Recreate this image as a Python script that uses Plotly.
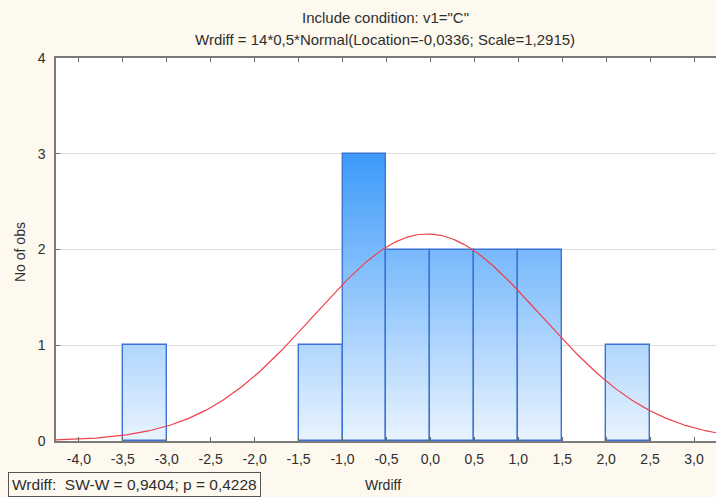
import numpy as np
import plotly.graph_objects as go

# ---- data ----
bin_left = [-3.5, -1.5, -1.0, -0.5, 0.0, 0.5, 1.0, 2.0]
counts = [1, 1, 3, 2, 2, 2, 2, 1]
bin_width = 0.5
n_obs = 14
loc = -0.0336
scale = 1.2915
x_tick_vals = [-4.0, -3.5, -3.0, -2.5, -2.0, -1.5, -1.0, -0.5, 0.0, 0.5, 1.0, 1.5, 2.0, 2.5, 3.0]
x_tick_text = ["-4,0", "-3,5", "-3,0", "-2,5", "-2,0", "-1,5", "-1,0", "-0,5",
               "0,0", "0,5", "1,0", "1,5", "2,0", "2,5", "3,0"]
y_tick_vals = [0, 1, 2, 3, 4]
title1 = 'Include condition: v1="C"'
title2 = "Wrdiff = 14*0,5*Normal(Location=-0,0336; Scale=1,2915)"
stats_text = "Wrdiff:  SW-W = 0,9404; p = 0,4228"
x_title = "Wrdiff"
y_title = "No of obs"

FONT = "Liberation Sans, Arial"
TXT = "#2e2e2e"

centers = [b + bin_width / 2 for b in bin_left]

# gradient segments (color by absolute level)
dh = 0.04
bottom_rgb = np.array([234, 244, 255])
top_rgb = np.array([61, 155, 250])
seg_x, seg_base, seg_h, seg_col = [], [], [], []
for c, n in zip(centers, counts):
    k = 0
    while k * dh < n - 1e-9:
        lvl = k * dh
        t = min((lvl + dh / 2) / 3.0, 1.0)
        rgb = bottom_rgb + (top_rgb - bottom_rgb) * t
        seg_x.append(c)
        seg_base.append(lvl)
        seg_h.append(min(dh * 1.6, n - lvl))
        seg_col.append("rgb(%d,%d,%d)" % tuple(rgb.astype(int)))
        k += 1

fig = go.Figure()
fig.add_trace(go.Bar(
    x=seg_x, y=seg_h, base=seg_base, width=bin_width,
    marker=dict(color=seg_col, line=dict(width=0)),
    hoverinfo="skip", showlegend=False,
))
fig.add_trace(go.Bar(
    x=centers, y=counts, width=bin_width,
    marker=dict(color="rgba(0,0,0,0)", line=dict(color="#3a72d6", width=1.4)),
    showlegend=False,
))

xs = np.linspace(-4.3, 3.3, 400)
ys = n_obs * bin_width * np.exp(-0.5 * ((xs - loc) / scale) ** 2) / (scale * np.sqrt(2 * np.pi))
fig.add_trace(go.Scatter(x=xs, y=ys, mode="lines",
                         line=dict(color="#f0404a", width=1.2), showlegend=False))

fig.update_layout(
    width=716, height=497,
    margin=dict(l=56, r=0, t=58, b=56),
    paper_bgcolor="#fdf9ee", plot_bgcolor="white",
    barmode="overlay", bargap=0,
    font=dict(family=FONT, size=14, color=TXT),
    xaxis=dict(range=[-4.26, 3.25], tickvals=x_tick_vals, ticktext=x_tick_text,
               showgrid=False, zeroline=False, showline=True, linecolor="#7a7a7a",
               linewidth=1.5, mirror="ticks", ticks="inside", ticklen=4,
               tickcolor="#666666", ticklabelstandoff=4,
               tickfont=dict(family=FONT, size=14, color=TXT)),
    yaxis=dict(range=[0, 4], tickvals=y_tick_vals, showgrid=True, gridcolor="#dcdcdc",
               gridwidth=1, zeroline=False, showline=True, linecolor="#7a7a7a",
               linewidth=1.5, ticks="inside", ticklen=4, tickcolor="#666666",
               ticklabelstandoff=6,
               tickfont=dict(family=FONT, size=14, color=TXT)),
)

# annotations placed by pixel position
H, W = 497, 716
l, r, t, b = 56, 0, 58, 56
pw, ph = W - l - r, H - t - b


def ann(text, px, py, size, xanchor="center", **kw):
    return dict(text=text, x=(px - l) / pw, y=(H - b - py) / ph, xref="paper", yref="paper",
                xanchor=xanchor, yanchor="middle", showarrow=False,
                font=dict(family=FONT, size=size, color=TXT), **kw)


fig.update_layout(annotations=[
    ann(title1, 385, 17, 15),
    ann(title2, 385, 39, 15),
    ann(x_title, 383, 485, 14),
    ann(y_title, 20, 252, 14, textangle=-90),
    ann(stats_text, 8, 485, 15.5, xanchor="left", bordercolor="#555555",
        borderwidth=1, borderpad=3),
])

fig.write_html("out.html")
